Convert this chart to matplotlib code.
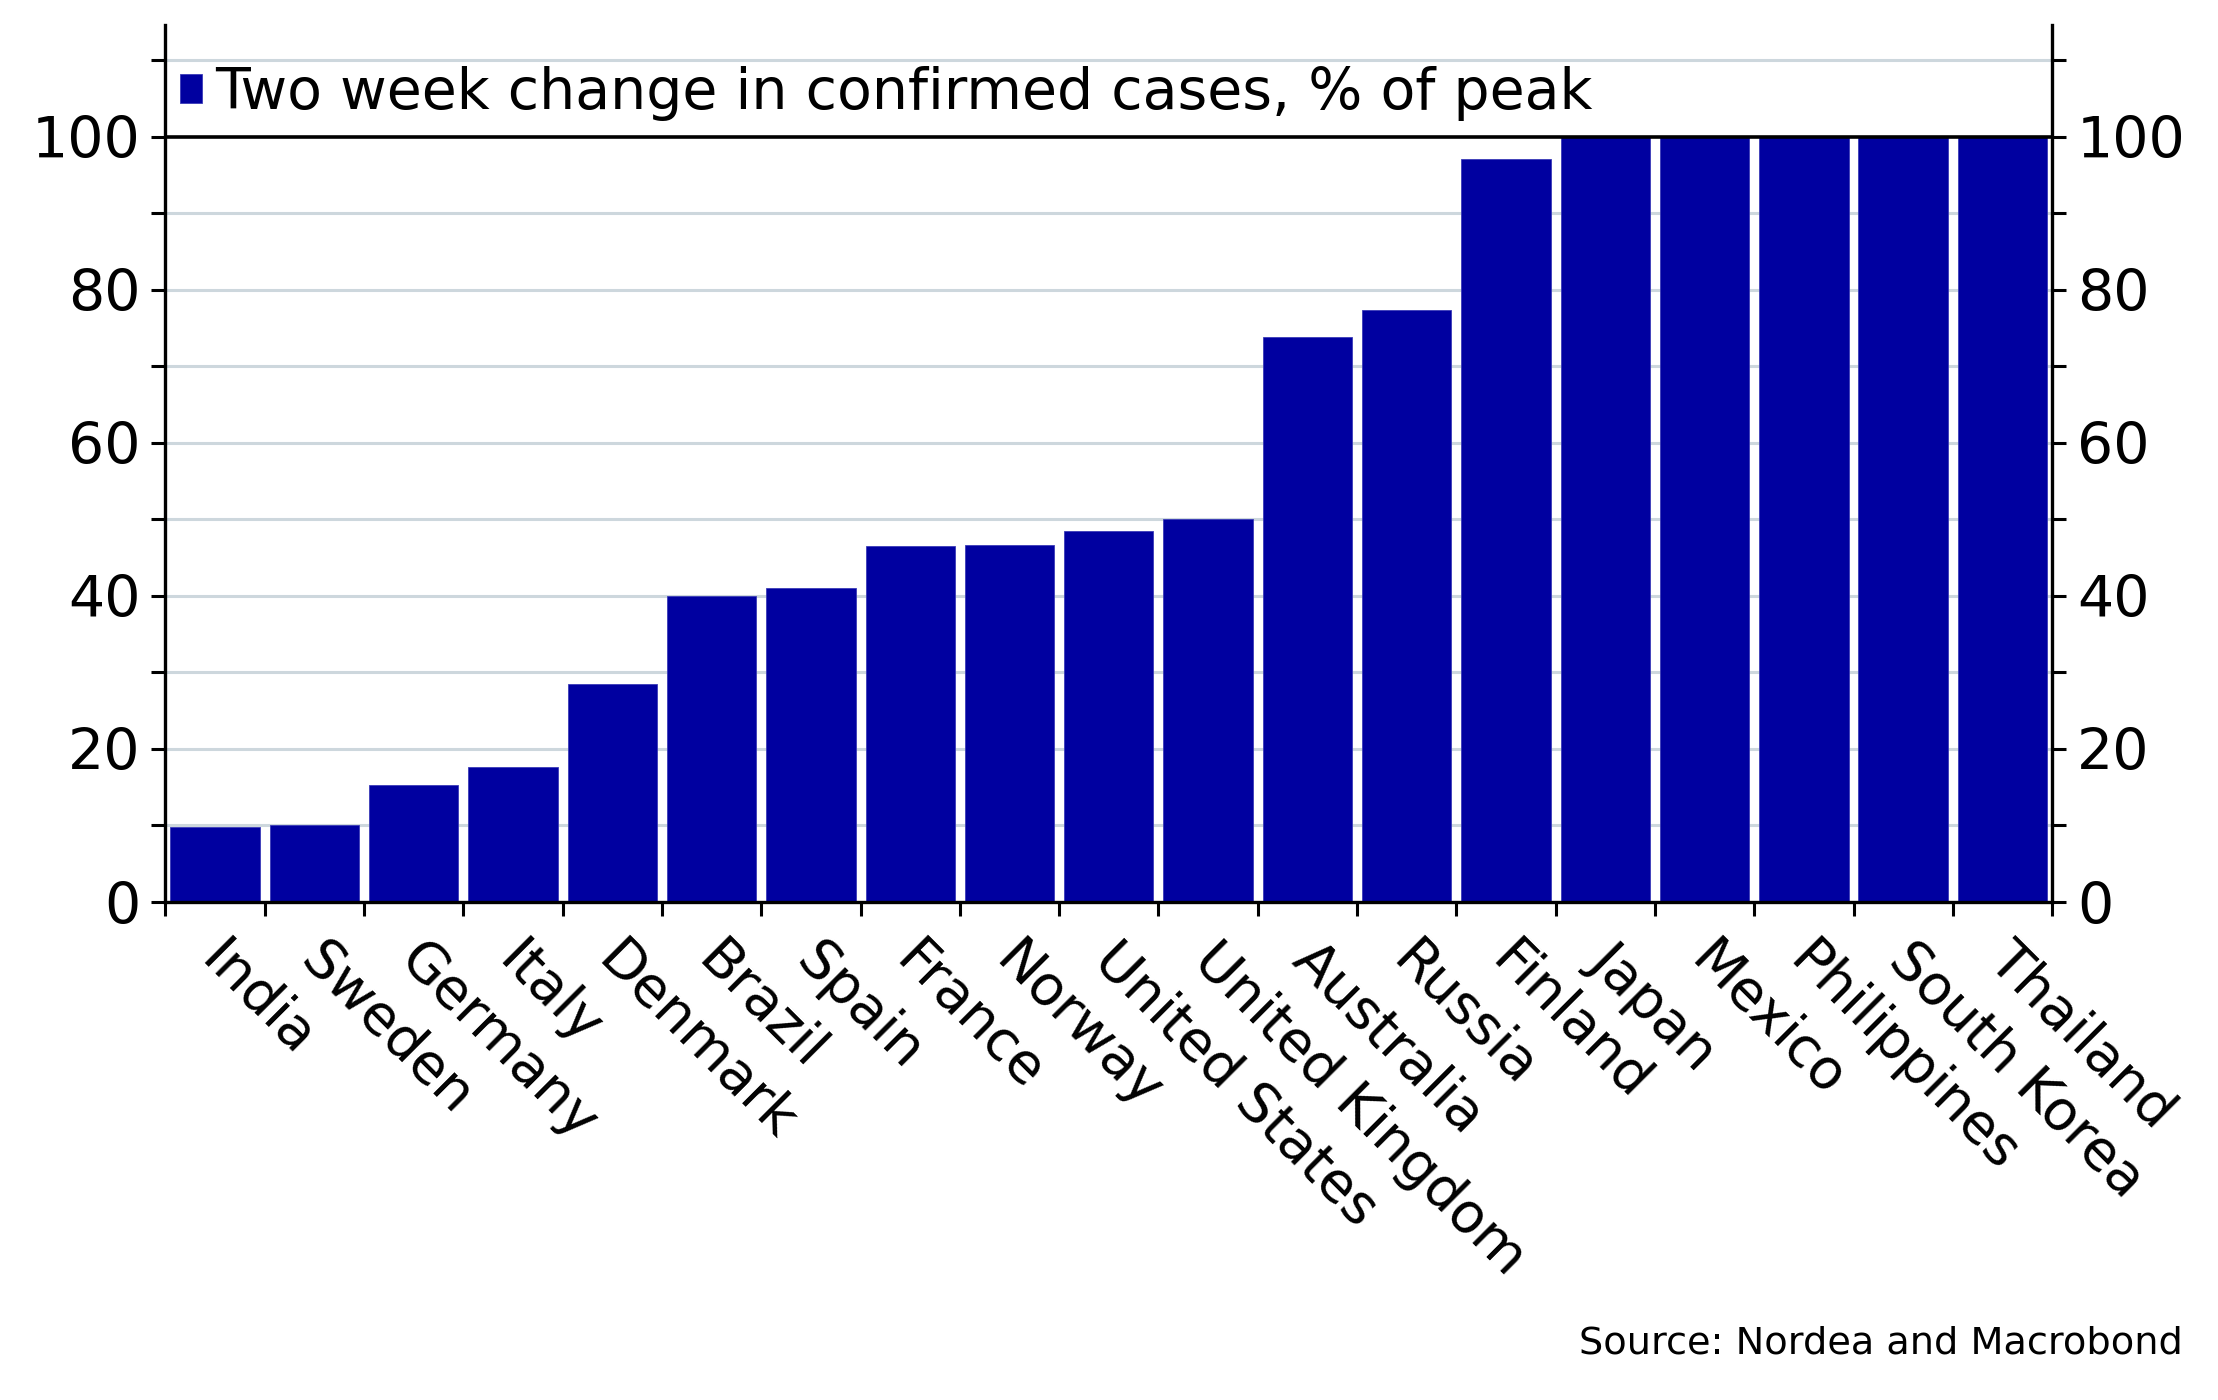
import matplotlib
matplotlib.use("Agg")
import matplotlib.pyplot as plt
import numpy as np

countries = ["India", "Sweden", "Germany", "Italy", "Denmark", "Brazil", "Spain",
             "France", "Norway", "United States", "United Kingdom", "Australia",
             "Russia", "Finland", "Japan", "Mexico", "Philippines", "South Korea",
             "Thailand"]
values = [9.8, 10.0, 15.3, 17.7, 28.5, 40.0, 41.0, 46.5, 46.7, 48.5, 50.0,
          73.9, 77.4, 97.1, 100, 100, 100, 100, 100]
series_label = "Two week change in confirmed cases, % of peak"
source_text = "Source: Nordea and Macrobond"
y_major = [0, 20, 40, 60, 80, 100]
y_minor = [10, 30, 50, 70, 90, 110]

plt.rcParams['font.family'] = ['DejaVu Sans']
BAR = '#0000a0'
GRID = '#cdd7dd'

fig = plt.figure(figsize=(22.18, 14.0), dpi=100)
ax = fig.add_axes([0.0746, 0.3557, 0.8506, 0.6264])

x = np.arange(len(countries))
for g in y_minor + y_major[1:-1]:
    ax.axhline(g, color=GRID, lw=2.2, zorder=0)
ax.axhline(100, color='black', lw=2.6, zorder=3)

bars = ax.bar(x, values, width=0.9, color=BAR, edgecolor='#3a3ab8', linewidth=0.6,
              zorder=2, label=series_label)

ax.set_xlim(-0.5, len(countries) - 0.5)
ax.set_ylim(0, 114.6)

ax.spines['top'].set_visible(False)
for s in ['left', 'right', 'bottom']:
    ax.spines[s].set_linewidth(2.4)
    ax.spines[s].set_color('black')

ax.set_yticks(y_major)
ax.set_yticklabels([str(v) for v in y_major])
ax.set_yticks(y_minor, minor=True)
ax.tick_params(axis='y', which='both', left=True, right=True, labelleft=True,
               labelright=True, direction='out', length=10, width=2.2,
               labelsize=41, pad=8)

ax.set_xticks(x - 0.06)
ax.set_xticklabels(countries, rotation=-45, ha='left', va='center',
                   rotation_mode='anchor', fontsize=40)
ax.set_xticks(np.arange(len(countries) + 1) - 0.5, minor=True)
ax.tick_params(axis='x', which='major', length=0, pad=36)
ax.tick_params(axis='x', which='minor', length=10, width=2.2, direction='out')

leg = ax.legend(loc='center left', bbox_to_anchor=(0.0075, 0.922), frameon=False,
                fontsize=41, handlelength=0.40, handleheight=0.40,
                handletextpad=0.22, borderpad=0, borderaxespad=0)

fig.text(0.984, 0.040, source_text, ha='right', va='center', fontsize=27.5)

fig.savefig("out.png", dpi=100)
